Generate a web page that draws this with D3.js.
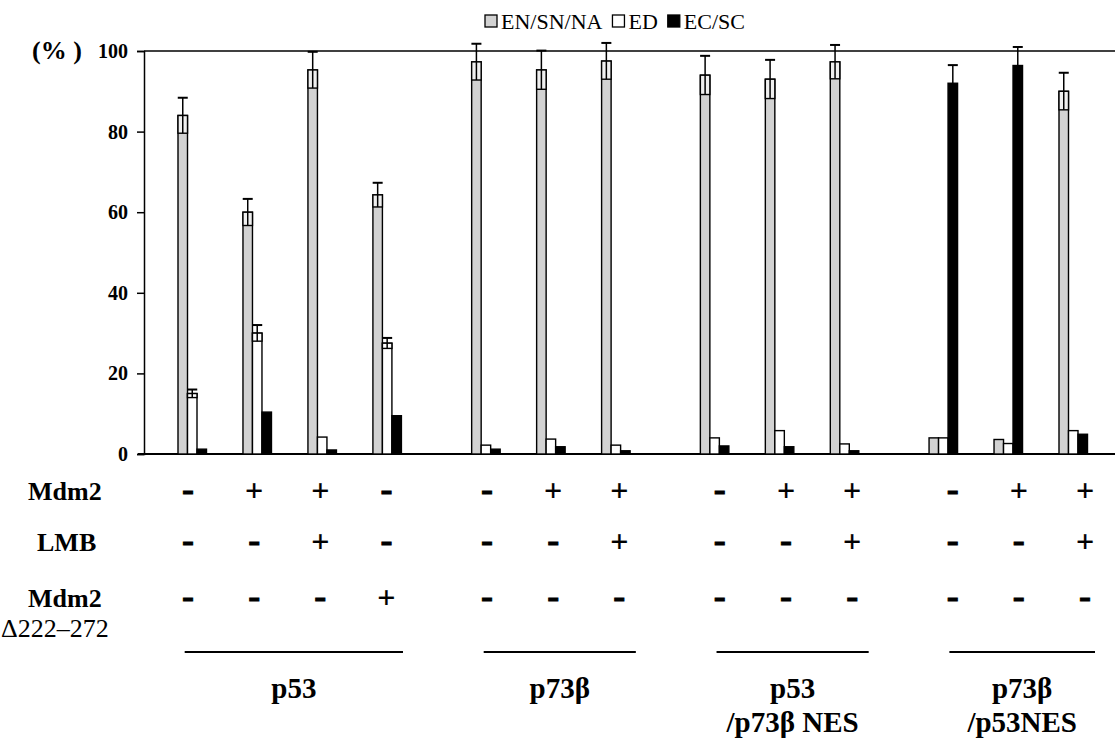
<!DOCTYPE html>
<html>
<head>
<meta charset="utf-8">
<script src="https://cdn.jsdelivr.net/npm/d3@7"></script>
<style>
  body { margin: 0; background: #fff; }
  text { font-family: "Liberation Serif", "Times New Roman", serif; fill: #000; }
</style>
</head>
<body>
<script>
// chart values
var groups = ["p53", "p73β", "p53|/p73β NES", "p73β|/p53NES"];
var groupOf = [0, 0, 0, 0, 1, 1, 1, 2, 2, 2, 3, 3, 3];
var mdm2 = ["-", "+", "+", "-", "-", "+", "+", "-", "+", "+", "-", "+", "+"];
var lmb = ["-", "-", "+", "-", "-", "-", "+", "-", "-", "+", "-", "-", "+"];
var mdm2d = ["-", "-", "-", "+", "-", "-", "-", "-", "-", "-", "-", "-", "-"];

var enValues = [84, 60, 95.3, 64.3, 97.3, 95.3, 97.5, 94, 93, 97.3, 4, 3.6, 90];
var edValues = [15, 30, 4.2, 27.5, 2.2, 3.7, 2.2, 4, 5.8, 2.5, 4, 2.6, 5.8];
var ecValues = [1.2, 10.4, 1, 9.5, 1.2, 1.8, 0.8, 2, 1.8, 0.8, 92, 96.4, 4.9];
var enErr = [4.4, 3.3, 4.5, 3, 4.5, 4.8, 4.5, 4.8, 4.8, 4.2, 0, 0, 4.6];
var edErr = [1, 2, 0, 1.3, 0, 0, 0, 0, 0, 0, 0, 0, 0];
var ecErr = [0, 0, 0, 0, 0, 0, 0, 0, 0, 0, 4.5, 4.6, 0];

var seriesNames = ["EN/SN/NA", "ED", "EC/SC"];
var seriesFill = ["#d2d2d2", "#ffffff", "#000000"];
var yTicks = [0, 20, 40, 60, 80, 100];

var width = 1115, height = 738;
var bw = 9.5;          // bar width
var gapSlots = 0.52;   // extra space between groups, in slot units

var svg = d3.select("body").append("svg")
  .attr("width", width)
  .attr("height", height);

// slot position of each condition (groups separated by a small gap)
var pos = groupOf.map(function(g, i) { return i + g * gapSlots; });
var maxPos = d3.max(pos);

var xBar = d3.scaleLinear().domain([0, maxPos]).range([178, 1059]);
var xSign = d3.scaleLinear().domain([0, maxPos]).range([188, 1085]);
var y = d3.scaleLinear().domain([0, 100]).range([454, 51]);

// top frame line and baseline
svg.append("line")
  .attr("x1", 144).attr("x2", width)
  .attr("y1", y(100)).attr("y2", y(100))
  .attr("stroke", "#000").attr("stroke-width", 1.5);
svg.append("line")
  .attr("x1", 138).attr("x2", width)
  .attr("y1", y(0)).attr("y2", y(0))
  .attr("stroke", "#000").attr("stroke-width", 2);

// y axis
var yAxis = svg.append("g")
  .attr("transform", "translate(144,0)")
  .call(d3.axisLeft(y).tickValues(yTicks).tickSize(7).tickPadding(9));
yAxis.selectAll("path, line").attr("stroke", "#000").attr("stroke-width", 1.5);
yAxis.selectAll("text")
  .attr("font-weight", "bold")
  .attr("font-size", 20)
  .attr("fill", "#000");

svg.append("text")
  .attr("x", 32).attr("y", 59)
  .attr("font-size", 26).attr("font-weight", "bold")
  .text("(% )");

// bars
var series = [
  { vals: enValues, err: enErr },
  { vals: edValues, err: edErr },
  { vals: ecValues, err: ecErr }
];

series.forEach(function(s, k) {
  var g = svg.append("g");
  g.selectAll("rect")
    .data(s.vals)
    .enter().append("rect")
    .attr("x", function(d, i) { return xBar(pos[i]) + k * bw; })
    .attr("y", function(d) { return y(d); })
    .attr("width", bw)
    .attr("height", function(d) { return y(0) - y(d); })
    .attr("fill", seriesFill[k])
    .attr("stroke", "#000")
    .attr("stroke-width", 1.4);

  // error bars
  s.vals.forEach(function(d, i) {
    var e = s.err[i];
    if (!e) return;
    var x0 = xBar(pos[i]) + k * bw;
    var cx = x0 + bw / 2;
    if (k !== 2) {
      g.append("rect")
        .attr("x", x0).attr("y", y(d))
        .attr("width", bw).attr("height", y(d - e) - y(d))
        .attr("fill", k === 0 ? "#efefef" : "#fff")
        .attr("stroke", "#000").attr("stroke-width", 1.4);
    }
    g.append("line")
      .attr("x1", cx).attr("x2", cx)
      .attr("y1", y(d - e)).attr("y2", y(d + e))
      .attr("stroke", "#000").attr("stroke-width", 1.5);
    g.append("line")
      .attr("x1", cx - 5).attr("x2", cx + 5)
      .attr("y1", y(d + e)).attr("y2", y(d + e))
      .attr("stroke", "#000").attr("stroke-width", 2);
  });
});

// legend
var lx = 485;
seriesNames.forEach(function(name, k) {
  svg.append("rect")
    .attr("x", lx).attr("y", 15)
    .attr("width", 12).attr("height", 12)
    .attr("fill", seriesFill[k])
    .attr("stroke", "#000").attr("stroke-width", 1.3);
  var t = svg.append("text")
    .attr("x", lx + 16).attr("y", 29)
    .attr("font-size", 22)
    .text(name);
  lx += 16 + t.node().getComputedTextLength() + 10;
});

// condition rows
var rows = [
  { label: "Mdm2", signs: mdm2, y: 491, lx: 28 },
  { label: "LMB", signs: lmb, y: 542, lx: 37 },
  { label: "Mdm2", signs: mdm2d, y: 598, lx: 28 }
];

rows.forEach(function(r) {
  svg.append("text")
    .attr("x", r.lx).attr("y", r.y + 9)
    .attr("font-size", 26).attr("font-weight", "bold")
    .text(r.label);
  svg.append("g").selectAll("text")
    .data(r.signs)
    .enter().append("text")
    .attr("x", function(d, i) { return xSign(pos[i]); })
    .attr("y", function(d) { return d === "-" ? r.y + 10 : r.y + 10; })
    .attr("text-anchor", "middle")
    .attr("font-size", function(d) { return d === "-" ? 36 : 32; })
    .attr("font-weight", "bold")
    .attr("stroke", "#000")
    .attr("stroke-width", function(d) { return d === "-" ? 0.9 : 0.2; })
    .text(function(d) { return d; });
});

svg.append("text")
  .attr("x", 1).attr("y", 637)
  .attr("font-size", 26)
  .text("Δ222–272");

// group lines and labels
groups.forEach(function(name, g) {
  var idx = pos.filter(function(p, i) { return groupOf[i] === g; });
  var x1 = xSign(d3.min(idx) - 0.05);
  var x2 = Math.min(xSign(d3.max(idx) + 0.25), width - 20);
  svg.append("line")
    .attr("x1", x1).attr("x2", x2)
    .attr("y1", 652).attr("y2", 652)
    .attr("stroke", "#000").attr("stroke-width", 2);
  var lines = name.split("|");
  lines.forEach(function(line, j) {
    svg.append("text")
      .attr("x", (x1 + x2) / 2)
      .attr("y", 698 + j * 34)
      .attr("text-anchor", "middle")
      .attr("font-size", 29)
      .attr("font-weight", "bold")
      .text(line);
  });
});
</script>
</body>
</html>
